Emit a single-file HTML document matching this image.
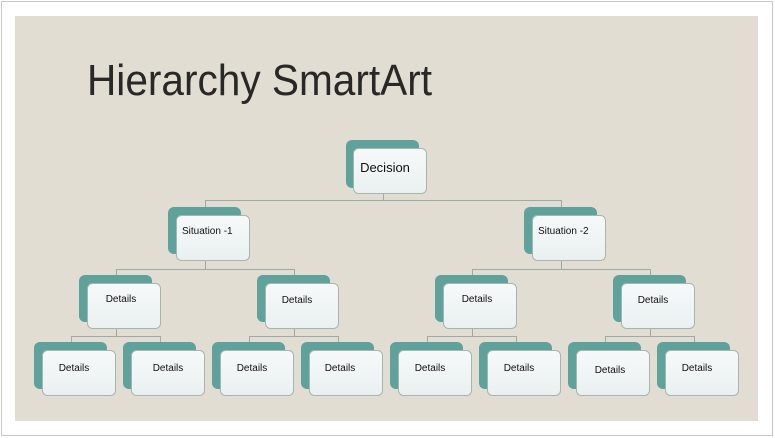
<!DOCTYPE html>
<html><head><meta charset="utf-8"><style>
html,body{margin:0;padding:0;background:#fff;}
svg{display:block;}
text{font-family:"Liberation Sans",sans-serif;fill:#111;}
</style></head><body>
<svg width="775" height="438" viewBox="0 0 775 438" xmlns="http://www.w3.org/2000/svg">
<defs>
<linearGradient id="cg" x1="0" y1="0" x2="0" y2="1"><stop offset="0" stop-color="#f6f9f9"/><stop offset="1" stop-color="#eaf0f0"/></linearGradient>
<g id="n"><rect x="0" y="0" width="73" height="47" rx="6" fill="#5fa19b"/><rect x="8.5" y="8.5" width="73" height="45" rx="5" fill="url(#cg)" stroke="#a7b5ad" stroke-width="1"/></g>
</defs>
<rect x="1.5" y="1.5" width="771" height="434" fill="#fff" stroke="#c8c8c8"/>
<rect x="15" y="16" width="743" height="405" fill="#e2ddd3"/>
<text x="87" y="95" font-size="44" textLength="345" lengthAdjust="spacingAndGlyphs" style="fill:#2a2826">Hierarchy SmartArt</text>
<g stroke="#9eaaa4" stroke-width="1" fill="none">
<path d="M383.5 193V200.5M205.5 200.5H561.5M205.5 200V207M561.5 200V207"/>
<path d="M205.5 261V269.5M116.5 269.5H294.5M116.5 269V275M294.5 269V275"/>
<path d="M561.5 261V269.5M472.5 269.5H650.5M472.5 269V275M650.5 269V275"/>
<path d="M116.5 329V336.5M71.5 336.5H160.5M71.5 336V342M160.5 336V342"/>
<path d="M294.5 329V336.5M249.5 336.5H338.5M249.5 336V342M338.5 336V342"/>
<path d="M472.5 329V336.5M427.5 336.5H516.5M427.5 336V342M516.5 336V342"/>
<path d="M650.5 329V336.5M605.5 336.5H694.5M605.5 336V342M694.5 336V342"/>
</g>
<rect x="346" y="140" width="73" height="48" rx="6" fill="#5fa19b"/>
<rect x="353.5" y="148.5" width="73" height="45" rx="5" fill="url(#cg)" stroke="#a7b5ad"/>
<text x="385" y="172" font-size="13" text-anchor="middle">Decision</text>
<use href="#n" x="168" y="207"/><use href="#n" x="524" y="207"/>
<text x="182" y="234" font-size="10">Situation -1</text>
<text x="538" y="234" font-size="10">Situation -2</text>
<use href="#n" x="79" y="275"/><use href="#n" x="257" y="275"/><use href="#n" x="435" y="275"/><use href="#n" x="613" y="275"/>
<g font-size="10" text-anchor="middle">
<text x="121" y="302">Details</text><text x="297" y="303">Details</text><text x="477" y="302">Details</text><text x="653" y="303">Details</text>
</g>
<use href="#n" x="34" y="342"/><use href="#n" x="123" y="342"/><use href="#n" x="212" y="342"/><use href="#n" x="301" y="342"/>
<use href="#n" x="390" y="342"/><use href="#n" x="479" y="342"/><use href="#n" x="568" y="342"/><use href="#n" x="657" y="342"/>
<g font-size="10" text-anchor="middle">
<text x="74" y="371">Details</text><text x="168" y="371">Details</text><text x="252" y="371">Details</text><text x="340" y="371">Details</text>
<text x="430" y="371">Details</text><text x="519" y="371">Details</text><text x="610" y="373">Details</text><text x="697" y="371">Details</text>
</g>
</svg>
</body></html>
